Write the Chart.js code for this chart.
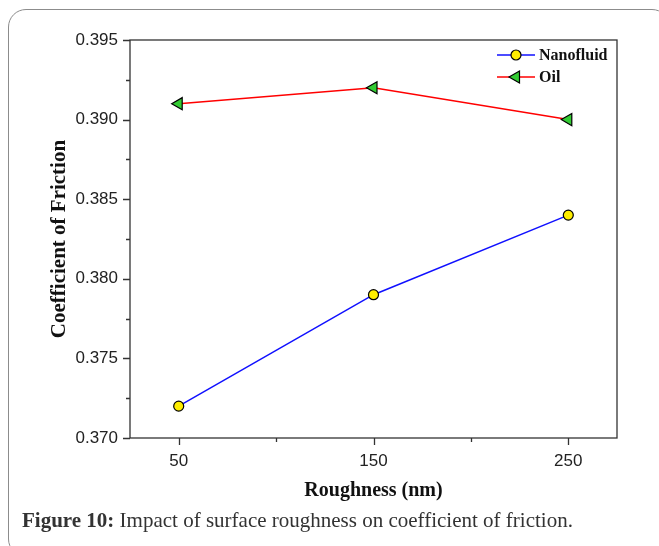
<!DOCTYPE html>
<html>
<head>
<meta charset="utf-8">
<script src="https://cdn.jsdelivr.net/npm/chart.js@4.4.0/dist/chart.umd.min.js"></script>
<style>
  html, body { margin: 0; padding: 0; background: #fff; }
  body { width: 659px; height: 546px; position: relative; overflow: hidden; }
  #frame { position: absolute; left: 8px; top: 9px; width: 662px; height: 548px;
           border: 1.5px solid #8c8c8c; border-radius: 18px; box-sizing: border-box; }
  #c { position: absolute; left: 0; top: 0; }
  #caption { position: absolute; left: 22px; top: 509px; font-family: "Liberation Serif", serif;
             font-size: 21px; line-height: 22px; color: #333; white-space: nowrap; }
</style>
</head>
<body>
<div id="frame"></div>
<canvas id="c" width="659" height="546"></canvas>
<div id="caption"><b>Figure 10:</b> Impact of surface roughness on coefficient of friction.</div>
<script>
// Surface roughness (nm) and measured coefficient of friction
const roughness = [50, 150, 250];
const nanofluid = [0.372, 0.379, 0.384];
const oil = [0.391, 0.392, 0.390];
const yTickValues = [0.370, 0.375, 0.380, 0.385, 0.390, 0.395];

const toPoints = (xs, ys) => xs.map((x, i) => ({ x: x, y: ys[i] }));

// Frame box around the plot area, plus outward major/minor tick marks
const axisBox = {
  id: 'axisBox',
  afterDraw(chart) {
    const { ctx, chartArea: a, scales: { x, y } } = chart;
    ctx.save();
    ctx.strokeStyle = '#333';
    ctx.lineWidth = 1.3;
    ctx.strokeRect(a.left, a.top, a.right - a.left, a.bottom - a.top);
    ctx.beginPath();
    // y ticks
    yTickValues.forEach((v, i) => {
      const py = Math.round(y.getPixelForValue(v)) + 0.5;
      ctx.moveTo(a.left - 7, py); ctx.lineTo(a.left, py);
      if (i < yTickValues.length - 1) {
        const pm = Math.round(y.getPixelForValue((v + yTickValues[i + 1]) / 2)) + 0.5;
        ctx.moveTo(a.left - 4, pm); ctx.lineTo(a.left, pm);
      }
    });
    // x ticks
    roughness.forEach((v, i) => {
      const px = Math.round(x.getPixelForValue(v)) + 0.5;
      ctx.moveTo(px, a.bottom); ctx.lineTo(px, a.bottom + 7);
      if (i < roughness.length - 1) {
        const pm = Math.round(x.getPixelForValue((v + roughness[i + 1]) / 2)) + 0.5;
        ctx.moveTo(pm, a.bottom); ctx.lineTo(pm, a.bottom + 4);
      }
    });
    ctx.stroke();
    ctx.restore();
  }
};

// Legend in the upper right corner of the plot
const cornerLegend = {
  id: 'cornerLegend',
  afterDraw(chart) {
    const { ctx, chartArea: a } = chart;
    ctx.save();
    chart.data.datasets.forEach((ds, i) => {
      const yy = a.top + 15 + i * 22;
      const x0 = a.right - 120, x1 = a.right - 82;
      ctx.strokeStyle = ds.borderColor;
      ctx.lineWidth = ds.borderWidth;
      ctx.beginPath(); ctx.moveTo(x0, yy); ctx.lineTo(x1, yy); ctx.stroke();
      ctx.fillStyle = ds.pointBackgroundColor;
      ctx.strokeStyle = ds.pointBorderColor;
      ctx.lineWidth = ds.pointBorderWidth;
      Chart.helpers.drawPoint(ctx, {
        pointStyle: ds.pointStyle, rotation: ds.pointRotation || 0,
        radius: ds.pointRadius, borderWidth: ds.pointBorderWidth
      }, (x0 + x1) / 2, yy);
      ctx.fillStyle = '#111';
      ctx.font = 'bold 16px "Liberation Serif"';
      ctx.textBaseline = 'middle';
      ctx.textAlign = 'left';
      ctx.fillText(ds.label, x1 + 4, yy + 1);
    });
    ctx.restore();
  }
};

new Chart(document.getElementById('c'), {
  type: 'line',
  data: {
    datasets: [
      {
        label: 'Nanofluid',
        data: toPoints(roughness, nanofluid),
        borderColor: '#1010ff', borderWidth: 1.5,
        pointStyle: 'circle', pointRadius: 5, pointHoverRadius: 5,
        pointBackgroundColor: '#ffee00', pointBorderColor: '#000', pointBorderWidth: 1.2
      },
      {
        label: 'Oil',
        data: toPoints(roughness, oil),
        borderColor: '#ff0000', borderWidth: 1.5,
        pointStyle: 'triangle', pointRotation: -90, pointRadius: 7, pointHoverRadius: 7,
        pointBackgroundColor: '#33cc33', pointBorderColor: '#000', pointBorderWidth: 1.2
      }
    ]
  },
  options: {
    responsive: false,
    animation: false,
    events: [],
    layout: { padding: { left: 35, top: 40, right: 42, bottom: 28 } },
    plugins: { legend: { display: false }, tooltip: { enabled: false } },
    scales: {
      x: {
        type: 'linear', min: 25, max: 275,
        afterBuildTicks: s => { s.ticks = roughness.map(v => ({ value: v })); },
        afterFit: s => { s.height = 80; },
        grid: { display: true, drawOnChartArea: false, drawTicks: true, tickLength: 8, color: 'rgba(0,0,0,0)' },
        border: { display: false },
        ticks: { padding: 5, color: '#222', font: { family: 'Liberation Sans', size: 17 },
                 maxRotation: 0, callback: v => String(v) },
        title: { display: true, text: 'Roughness (nm)', color: '#111',
                 font: { family: 'Liberation Serif', size: 20, weight: 'bold' },
                 padding: { top: 0, bottom: 15 } }
      },
      y: {
        min: 0.370, max: 0.395,
        afterBuildTicks: s => { s.ticks = yTickValues.map(v => ({ value: v })); },
        afterFit: s => { s.width = 95; },
        grid: { display: true, drawOnChartArea: false, drawTicks: true, tickLength: 8, color: 'rgba(0,0,0,0)' },
        border: { display: false },
        ticks: { padding: 4, color: '#222', font: { family: 'Liberation Sans', size: 17 },
                 callback: v => Number(v).toFixed(3) },
        title: { display: true, text: 'Coefficient of Friction', color: '#111',
                 font: { family: 'Liberation Serif', size: 21, weight: 'bold' },
                 padding: { top: 12, bottom: 0 } }
      }
    }
  },
  plugins: [axisBox, cornerLegend]
});
</script>
</body>
</html>
